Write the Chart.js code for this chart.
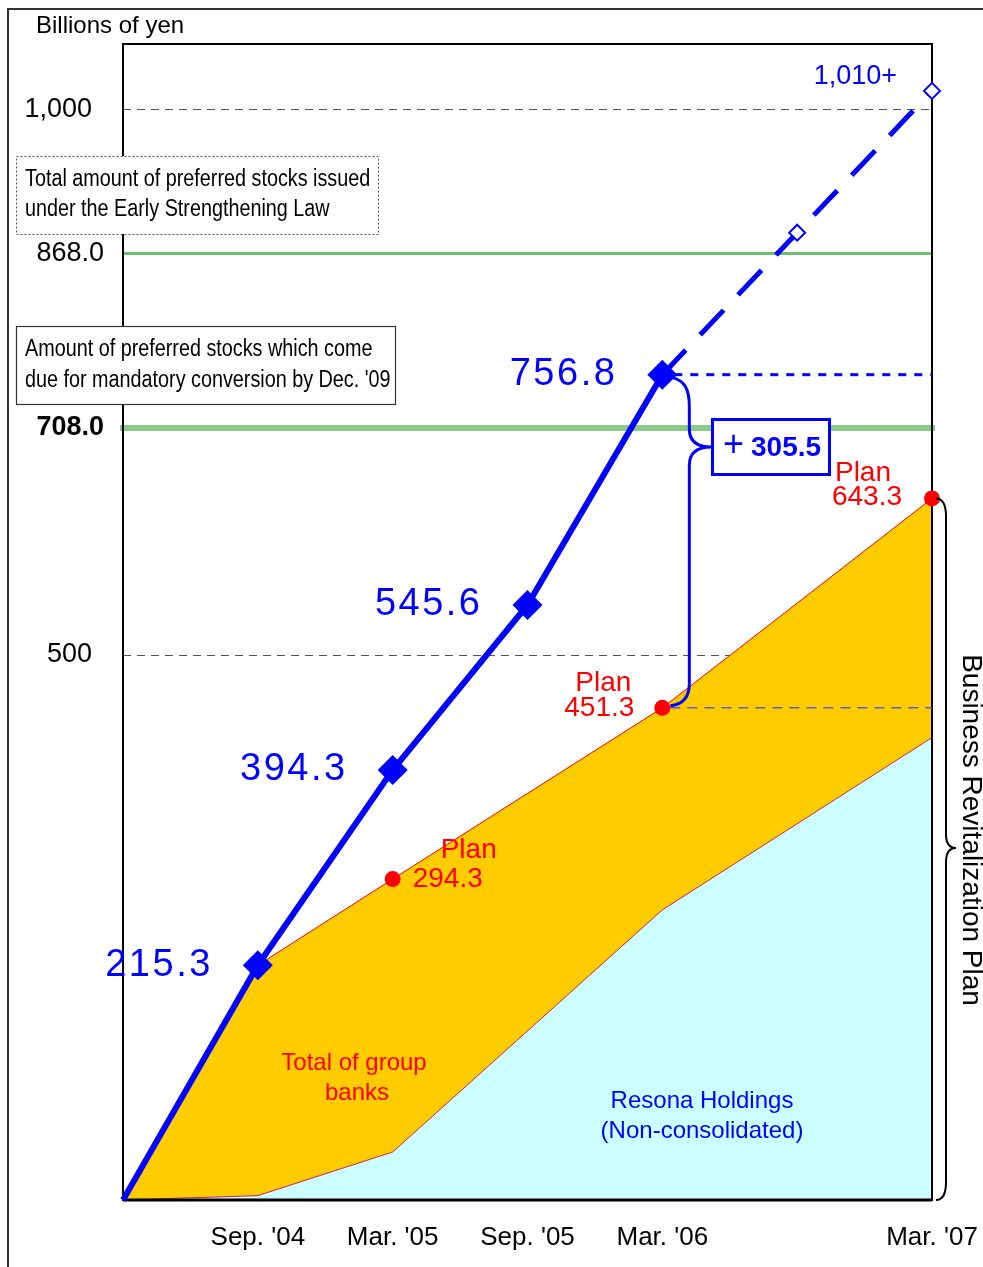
<!DOCTYPE html>
<html lang="en">
<head>
<meta charset="UTF-8">
<title>Preferred stocks vs. retained earnings</title>
<script src="https://cdn.jsdelivr.net/npm/chart.js"></script>
<style>
    body { margin: 0; background: #fff; }
    .chart-container { position: relative; width: 983px; height: 1267px; }
</style>
</head>
<body>
<div class="chart-container">
    <canvas id="mainChart" width="983" height="1267"></canvas>
</div>
<script>
// periods on the x axis (half-years, Mar. '04 = 0)
const periods = [0, 1, 2, 3, 4, 5, 6];
const periodLabels = ['', "Sep. '04", "Mar. '05", "Sep. '05", "Mar. '06", '', "Mar. '07"];

// retained earnings, actual (billions of yen)
const actualX = [0, 1, 2, 3, 4];
const actualVals = [0, 215.3, 394.3, 545.6, 756.8];

// projected path to Mar. '07
const forecastX = [4, 5, 6];
const forecastVals = [756.8, 887, 1017];

// Business Revitalization Plan - total of group banks
const groupX = [0, 1, 2, 4, 6];
const groupVals = [0, 215.3, 294.3, 451.3, 643.3];

// Business Revitalization Plan - Resona Holdings (non-consolidated)
const resonaX = [0, 1, 2, 4, 6];
const resonaVals = [0, 4, 44, 266, 424];

// plan markers
const planX = [2, 4, 6];
const planVals = [294.3, 451.3, 643.3];

// y tick labels
const yTicks = [1000, 868, 708, 500];
const yTickLabels = ['1,000', '868.0', '708.0', '500'];
const gridVals = [1000, 500];
const refVals = [868, 708];

function pts(xs, ys) { return xs.map((x, i) => ({ x: x, y: ys[i] })); }

const BLUE = '#0000ff';
const RED = '#ff0000';
const SANS = '"Liberation Sans", Arial, sans-serif';

function narrowText(ctx, text, x, y, size) {
    ctx.save();
    ctx.translate(x, y);
    ctx.scale(0.86, 1);
    ctx.font = size + 'px ' + SANS;
    ctx.fillText(text, 0, 0);
    ctx.restore();
}

const decorPlugin = {
    id: 'decor',
    beforeDatasetsDraw(chart) {
        const ctx = chart.ctx;
        const a = chart.chartArea;
        const y = chart.scales.y;
        ctx.save();
        // dashed grid lines
        ctx.strokeStyle = '#555';
        ctx.lineWidth = 1;
        ctx.setLineDash([8, 6]);
        gridVals.forEach(v => {
            const py = Math.round(y.getPixelForValue(v)) + 0.5;
            ctx.beginPath(); ctx.moveTo(a.left, py); ctx.lineTo(a.right, py); ctx.stroke();
        });
        ctx.setLineDash([]);
        // green reference lines
        let py = y.getPixelForValue(refVals[0]);
        ctx.strokeStyle = '#6dbf6d'; ctx.lineWidth = 3;
        ctx.beginPath(); ctx.moveTo(a.left, py); ctx.lineTo(a.right, py); ctx.stroke();
        py = y.getPixelForValue(refVals[1]);
        ctx.strokeStyle = '#8acb8a'; ctx.lineWidth = 6;
        ctx.beginPath(); ctx.moveTo(a.left - 3, py); ctx.lineTo(a.right + 3, py); ctx.stroke();
        ctx.restore();
    },
    afterDatasetDraw(chart, args) {
        if (args.index !== 1) return; // after the Resona area
        const ctx = chart.ctx;
        const a = chart.chartArea;
        const x = chart.scales.x, y = chart.scales.y;
        ctx.save();
        // plot frame
        ctx.strokeStyle = '#000';
        ctx.lineWidth = 2;
        ctx.strokeRect(a.left, a.top, a.right - a.left, a.bottom - a.top);
        ctx.lineWidth = 3;
        ctx.beginPath(); ctx.moveTo(a.left, a.bottom); ctx.lineTo(a.right, a.bottom); ctx.stroke();
        // dashed level of plan Mar. '06
        const p2y = y.getPixelForValue(planVals[1]);
        const p2x = x.getPixelForValue(planX[1]);
        ctx.strokeStyle = '#5c5cd6'; ctx.lineWidth = 1.5; ctx.setLineDash([10, 7]);
        ctx.beginPath(); ctx.moveTo(p2x + 8, p2y); ctx.lineTo(a.right, p2y); ctx.stroke();
        // dotted level of actual Mar. '06
        const p1y = y.getPixelForValue(actualVals[4]);
        const p1x = x.getPixelForValue(actualX[4]);
        ctx.strokeStyle = BLUE; ctx.lineWidth = 3; ctx.setLineDash([8, 8]);
        ctx.beginPath(); ctx.moveTo(p1x + 12, p1y); ctx.lineTo(a.right, p1y); ctx.stroke();
        ctx.restore();
    },
    afterDraw(chart) {
        const ctx = chart.ctx;
        const a = chart.chartArea;
        const x = chart.scales.x, y = chart.scales.y;
        ctx.save();
        ctx.textBaseline = 'middle';

        // outer frame
        ctx.strokeStyle = '#333'; ctx.lineWidth = 2;
        ctx.beginPath(); ctx.moveTo(8, 1267); ctx.lineTo(8, 9); ctx.lineTo(983, 9); ctx.stroke();

        // unit
        ctx.fillStyle = '#000';
        ctx.font = '24px ' + SANS;
        ctx.textAlign = 'left';
        ctx.fillText('Billions of yen', 36, 26);

        // y tick labels
        yTicks.forEach((v, i) => {
            const py = y.getPixelForValue(v);
            ctx.textAlign = 'right';
            ctx.font = (v === 708 ? 'bold ' : '') + '27px ' + SANS;
            const right = (v === 868 || v === 708) ? 104 : 92;
            ctx.fillText(yTickLabels[i], right, py);
        });

        // x tick labels
        ctx.font = '26px ' + SANS;
        ctx.textAlign = 'center';
        periods.forEach((p, i) => {
            if (!periodLabels[i]) return;
            let px = x.getPixelForValue(p);
            ctx.fillText(periodLabels[i], px, 1238);
        });

        // note boxes
        ctx.fillStyle = '#fff';
        ctx.fillRect(16, 156, 362, 78);
        ctx.strokeStyle = '#555'; ctx.lineWidth = 1; ctx.setLineDash([2, 2]);
        ctx.strokeRect(16.5, 156.5, 362, 78);
        ctx.setLineDash([]);
        ctx.fillStyle = '#fff';
        ctx.fillRect(16, 326, 379, 78);
        ctx.strokeStyle = '#333'; ctx.lineWidth = 1.2;
        ctx.strokeRect(16.5, 326.5, 379, 78);
        ctx.fillStyle = '#000';
        ctx.textAlign = 'left';
        narrowText(ctx, 'Total amount of preferred stocks issued', 25, 180, 23);
        narrowText(ctx, 'under the Early Strengthening Law', 25, 210, 23);
        narrowText(ctx, 'Amount of preferred stocks which come', 25, 350, 23);
        narrowText(ctx, "due for mandatory conversion by Dec. '09", 25, 381, 23);

        // actual value labels
        ctx.fillStyle = BLUE;
        ctx.font = '38px ' + SANS;
        ctx.letterSpacing = '2.5px';
        ctx.textAlign = 'right';
        actualX.forEach((p, i) => {
            if (i === 0) return;
            ctx.fillText(actualVals[i].toFixed(1), x.getPixelForValue(p) - 45, y.getPixelForValue(actualVals[i]));
        });
        ctx.letterSpacing = '0px';

        // forecast label
        ctx.font = '27px ' + SANS;
        ctx.textAlign = 'right';
        ctx.fillText('1,010+', x.getPixelForValue(6) - 35, y.getPixelForValue(forecastVals[2]) - 14);

        // plan labels
        ctx.fillStyle = RED;
        ctx.font = '28px ' + SANS;
        let px = x.getPixelForValue(planX[0]), py = y.getPixelForValue(planVals[0]);
        ctx.textAlign = 'left';
        ctx.fillText('Plan', px + 48, py - 29);
        ctx.fillText(planVals[0].toFixed(1), px + 20, py);
        ctx.textAlign = 'right';
        px = x.getPixelForValue(planX[1]); py = y.getPixelForValue(planVals[1]);
        ctx.fillText('Plan', px - 31, py - 25);
        ctx.fillText(planVals[1].toFixed(1), px - 28, py);
        px = x.getPixelForValue(planX[2]); py = y.getPixelForValue(planVals[2]);
        ctx.fillText('Plan', px - 41, py - 25);
        ctx.fillText(planVals[2].toFixed(1), px - 30, py - 1);

        // area names
        ctx.textAlign = 'center';
        ctx.font = '24px ' + SANS;
        ctx.fillText('Total of group', 354, 1063);
        ctx.fillText('banks', 357, 1093);
        ctx.fillStyle = BLUE;
        ctx.fillText('Resona Holdings', 702, 1101);
        ctx.fillText('(Non-consolidated)', 702, 1131);

        // blue brace showing the gap
        const ax = x.getPixelForValue(actualX[4]), ay = y.getPixelForValue(actualVals[4]);
        const bx = x.getPixelForValue(planX[1]), by = y.getPixelForValue(planVals[1]);
        const cx = ax + 27, tipY = 447;
        ctx.strokeStyle = BLUE; ctx.lineWidth = 3;
        ctx.beginPath();
        ctx.moveTo(ax + 10, ay + 3);
        ctx.bezierCurveTo(ax + 22, ay + 6, cx, ay + 14, cx, ay + 32);
        ctx.lineTo(cx, tipY - 18);
        ctx.quadraticCurveTo(cx, tipY, cx + 22, tipY);
        ctx.quadraticCurveTo(cx, tipY, cx, tipY + 18);
        ctx.lineTo(cx, by - 24);
        ctx.bezierCurveTo(cx, by - 8, bx + 18, by - 3, bx + 8, by - 2);
        ctx.stroke();
        // gap box
        ctx.fillStyle = '#fff';
        ctx.fillRect(711, 418, 120, 58);
        ctx.lineWidth = 3;
        ctx.strokeRect(712.5, 419.5, 117, 55);
        ctx.fillStyle = BLUE;
        ctx.textAlign = 'left';
        ctx.font = '36px ' + SANS;
        ctx.fillText('+', 723, 446);
        ctx.font = 'bold 28px ' + SANS;
        ctx.fillText('305.5', 751, 448);

        // black brace for the plan
        const top = y.getPixelForValue(planVals[2]);
        const bot = a.bottom;
        const mid = 848, vx = 946;
        ctx.strokeStyle = '#000'; ctx.lineWidth = 2;
        ctx.beginPath();
        ctx.moveTo(a.right + 4, top);
        ctx.quadraticCurveTo(vx, top, vx, top + 18);
        ctx.lineTo(vx, mid - 14);
        ctx.quadraticCurveTo(vx, mid, vx + 10, mid);
        ctx.quadraticCurveTo(vx, mid, vx, mid + 14);
        ctx.lineTo(vx, bot - 18);
        ctx.quadraticCurveTo(vx, bot, a.right + 4, bot);
        ctx.stroke();

        // vertical caption
        ctx.save();
        ctx.translate(971, 830);
        ctx.rotate(Math.PI / 2);
        ctx.fillStyle = '#000';
        ctx.textAlign = 'center';
        ctx.font = '28px ' + SANS;
        ctx.fillText('Business Revitalization Plan', 0, 0);
        ctx.restore();

        ctx.restore();
    }
};

const ctx = document.getElementById('mainChart').getContext('2d');
new Chart(ctx, {
    type: 'line',
    data: {
        datasets: [
            {
                label: 'Total of group banks',
                data: pts(groupX, groupVals),
                backgroundColor: '#ffcc00',
                borderColor: '#ff0000',
                borderWidth: 1,
                pointRadius: 0,
                fill: 'origin',
                order: 10
            },
            {
                label: 'Resona Holdings',
                data: pts(resonaX, resonaVals),
                backgroundColor: '#ccffff',
                borderColor: '#cc2255',
                borderWidth: 1,
                pointRadius: 0,
                fill: 'origin',
                order: 9
            },
            {
                label: 'Plan',
                data: pts(planX, planVals),
                showLine: false,
                pointStyle: 'circle',
                pointRadius: 8,
                backgroundColor: RED,
                borderColor: RED,
                borderWidth: 0,
                clip: false,
                order: 3
            },
            {
                label: 'Forecast',
                data: pts(forecastX, forecastVals),
                borderColor: BLUE,
                borderWidth: 5,
                borderDash: [34, 21],
                pointStyle: 'rectRot',
                pointRadius: [0, 8, 8],
                pointBackgroundColor: '#fff',
                pointBorderColor: BLUE,
                pointBorderWidth: 2,
                fill: false,
                clip: false,
                order: 2
            },
            {
                label: 'Actual',
                data: pts(actualX, actualVals),
                borderColor: BLUE,
                borderWidth: 6,
                pointStyle: 'rectRot',
                pointRadius: [0, 15, 15, 15, 15],
                pointBackgroundColor: BLUE,
                pointBorderColor: BLUE,
                pointBorderWidth: 0,
                fill: false,
                clip: false,
                order: 1
            }
        ]
    },
    options: {
        responsive: false,
        animation: false,
        devicePixelRatio: 1,
        events: [],
        layout: { padding: { left: 123, right: 51, top: 44, bottom: 67 } },
        plugins: { legend: { display: false }, tooltip: { enabled: false } },
        scales: {
            x: { type: 'linear', min: 0, max: 6, display: false },
            y: { type: 'linear', min: 0, max: 1060, display: false }
        }
    },
    plugins: [decorPlugin]
});
</script>
</body>
</html>
